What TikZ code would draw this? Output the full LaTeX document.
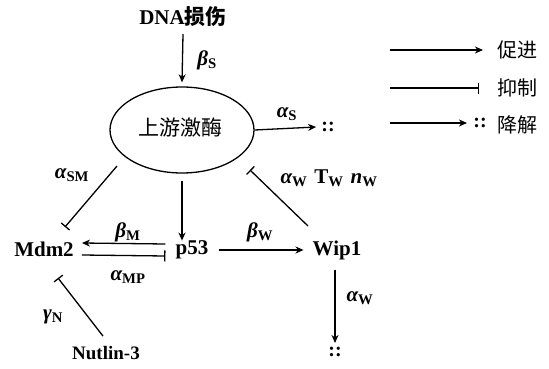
\documentclass[tikz,border=0pt]{standalone}
\usepackage{fontspec}
\setmainfont{Liberation Serif}
\newfontfamily\cjk{Noto Sans CJK SC}
\usetikzlibrary{arrows.meta,calc,shapes.geometric}
\newcommand\gsb[1]{\textsubscript{\upshape\bfseries #1}}
\begin{document}
\begin{tikzpicture}[x=1pt,y=1pt,
  lbl/.style={font=\fontsize{21}{21}\selectfont\bfseries, inner sep=0pt},
  gk/.style={font=\fontsize{21}{21}\selectfont\bfseries\itshape, inner sep=0pt},
  zh/.style={font=\fontsize{20}{20}\selectfont\cjk, inner sep=0pt},
  dots/.style={font=\fontsize{20}{20}\selectfont\bfseries, inner sep=0pt},
  arr/.style={line width=1.3pt, -{Stealth[length=8pt,width=7pt,inset=2.5pt]}},
  inh/.style={line width=1.3pt, -{Bar[width=11pt,line width=1.3pt]}},
]
\useasboundingbox (0,0) rectangle (549,368);

% nodes
\node[lbl] (dna) at (183,351) {DNA{\cjk 损伤}};
\node[draw, ellipse, line width=1.3pt, minimum width=144pt, minimum height=86pt, inner sep=0pt] (ell) at (182,238) {};
\node[zh, font=\fontsize{21}{21}\selectfont\cjk] (upk) at (180,240) {上游激酶};
\node[lbl] (mdm) at (44,119) {Mdm2};
\node[lbl] (p53) at (192,118) {p53};
\node[lbl] (wip) at (337,118) {Wip1};
\node[lbl, font=\fontsize{19}{19}\selectfont\bfseries] (nut) at (106,15) {Nutlin-3};
\node[dots] (d1) at (328,241) {::};
\node[dots] (d2) at (335,16) {::};

% labels
\node[gk] (bS) at (207,308) {β\gsb{S}};
\node[gk] (aS) at (287,254) {α\gsb{S}};
\node[gk] (aSM) at (72,193) {α\gsb{SM}};
\node[gk] (awtn) at (329,190) {α\gsb{W}\hspace{7pt}{\upshape T\gsb{W}}\hspace{7pt}n\gsb{W}};
\node[gk] (bM) at (128,136) {β\gsb{M}};
\node[gk] (aMP) at (128,91) {α\gsb{MP}};
\node[gk] (bW) at (260,136) {β\gsb{W}};
\node[gk] (aW) at (360,70) {α\gsb{W}};
\node[gk] (gN) at (53,51) {γ\gsb{N}};

% connectors
\draw[arr] ([yshift=-7pt]dna.south) -- ([yshift=4pt]ell.north);
\draw[arr] (ell.east) -- ([xshift=-5pt]d1.west);
\draw[inh] ([shift={(-65pt,-36pt)}]ell.center) -- ([shift={(21pt,22pt)}]mdm.center);
\draw[arr] ([yshift=-7pt]ell.south) -- (ell.south |- p53.north);
\draw[inh] ([shift={(-29pt,24pt)}]wip.center) -- ([shift={(68pt,-40pt)}]ell.center);
\draw[arr] ([shift={(-10pt,6pt)}]p53.west) -- ([shift={(8pt,6pt)}]mdm.east);
\draw[inh] ([shift={(8pt,-6pt)}]mdm.east) -- ([shift={(-10pt,-6pt)}]p53.west);
\draw[arr] ([xshift=10pt]p53.east) -- ([xshift=-9pt]wip.west);
\draw[arr] ([shift={(-2pt,-10pt)}]wip.south) -- ([yshift=4pt]d2.north);
\draw[inh] ([shift={(-3pt,10pt)}]nut.north) -- ([shift={(14pt,-29pt)}]mdm.center);

% legend
\coordinate (l1a) at (390,318); \coordinate (l1b) at (483,318);
\coordinate (l2a) at (390,280); \coordinate (l2b) at (479,280);
\coordinate (l3a) at (390,245); \coordinate (l3b) at (467,245);
\node[dots] (d3) at (480,245) {::};
\node[zh] (t1) at (517,318) {促进};
\node[zh] (t2) at (517,280) {抑制};
\node[zh] (t3) at (517,243) {降解};
\draw[arr] (l1a) -- (l1b);
\draw[inh] (l2a) -- (l2b);
\draw[arr] (l3a) -- (l3b);
\end{tikzpicture}
\end{document}
